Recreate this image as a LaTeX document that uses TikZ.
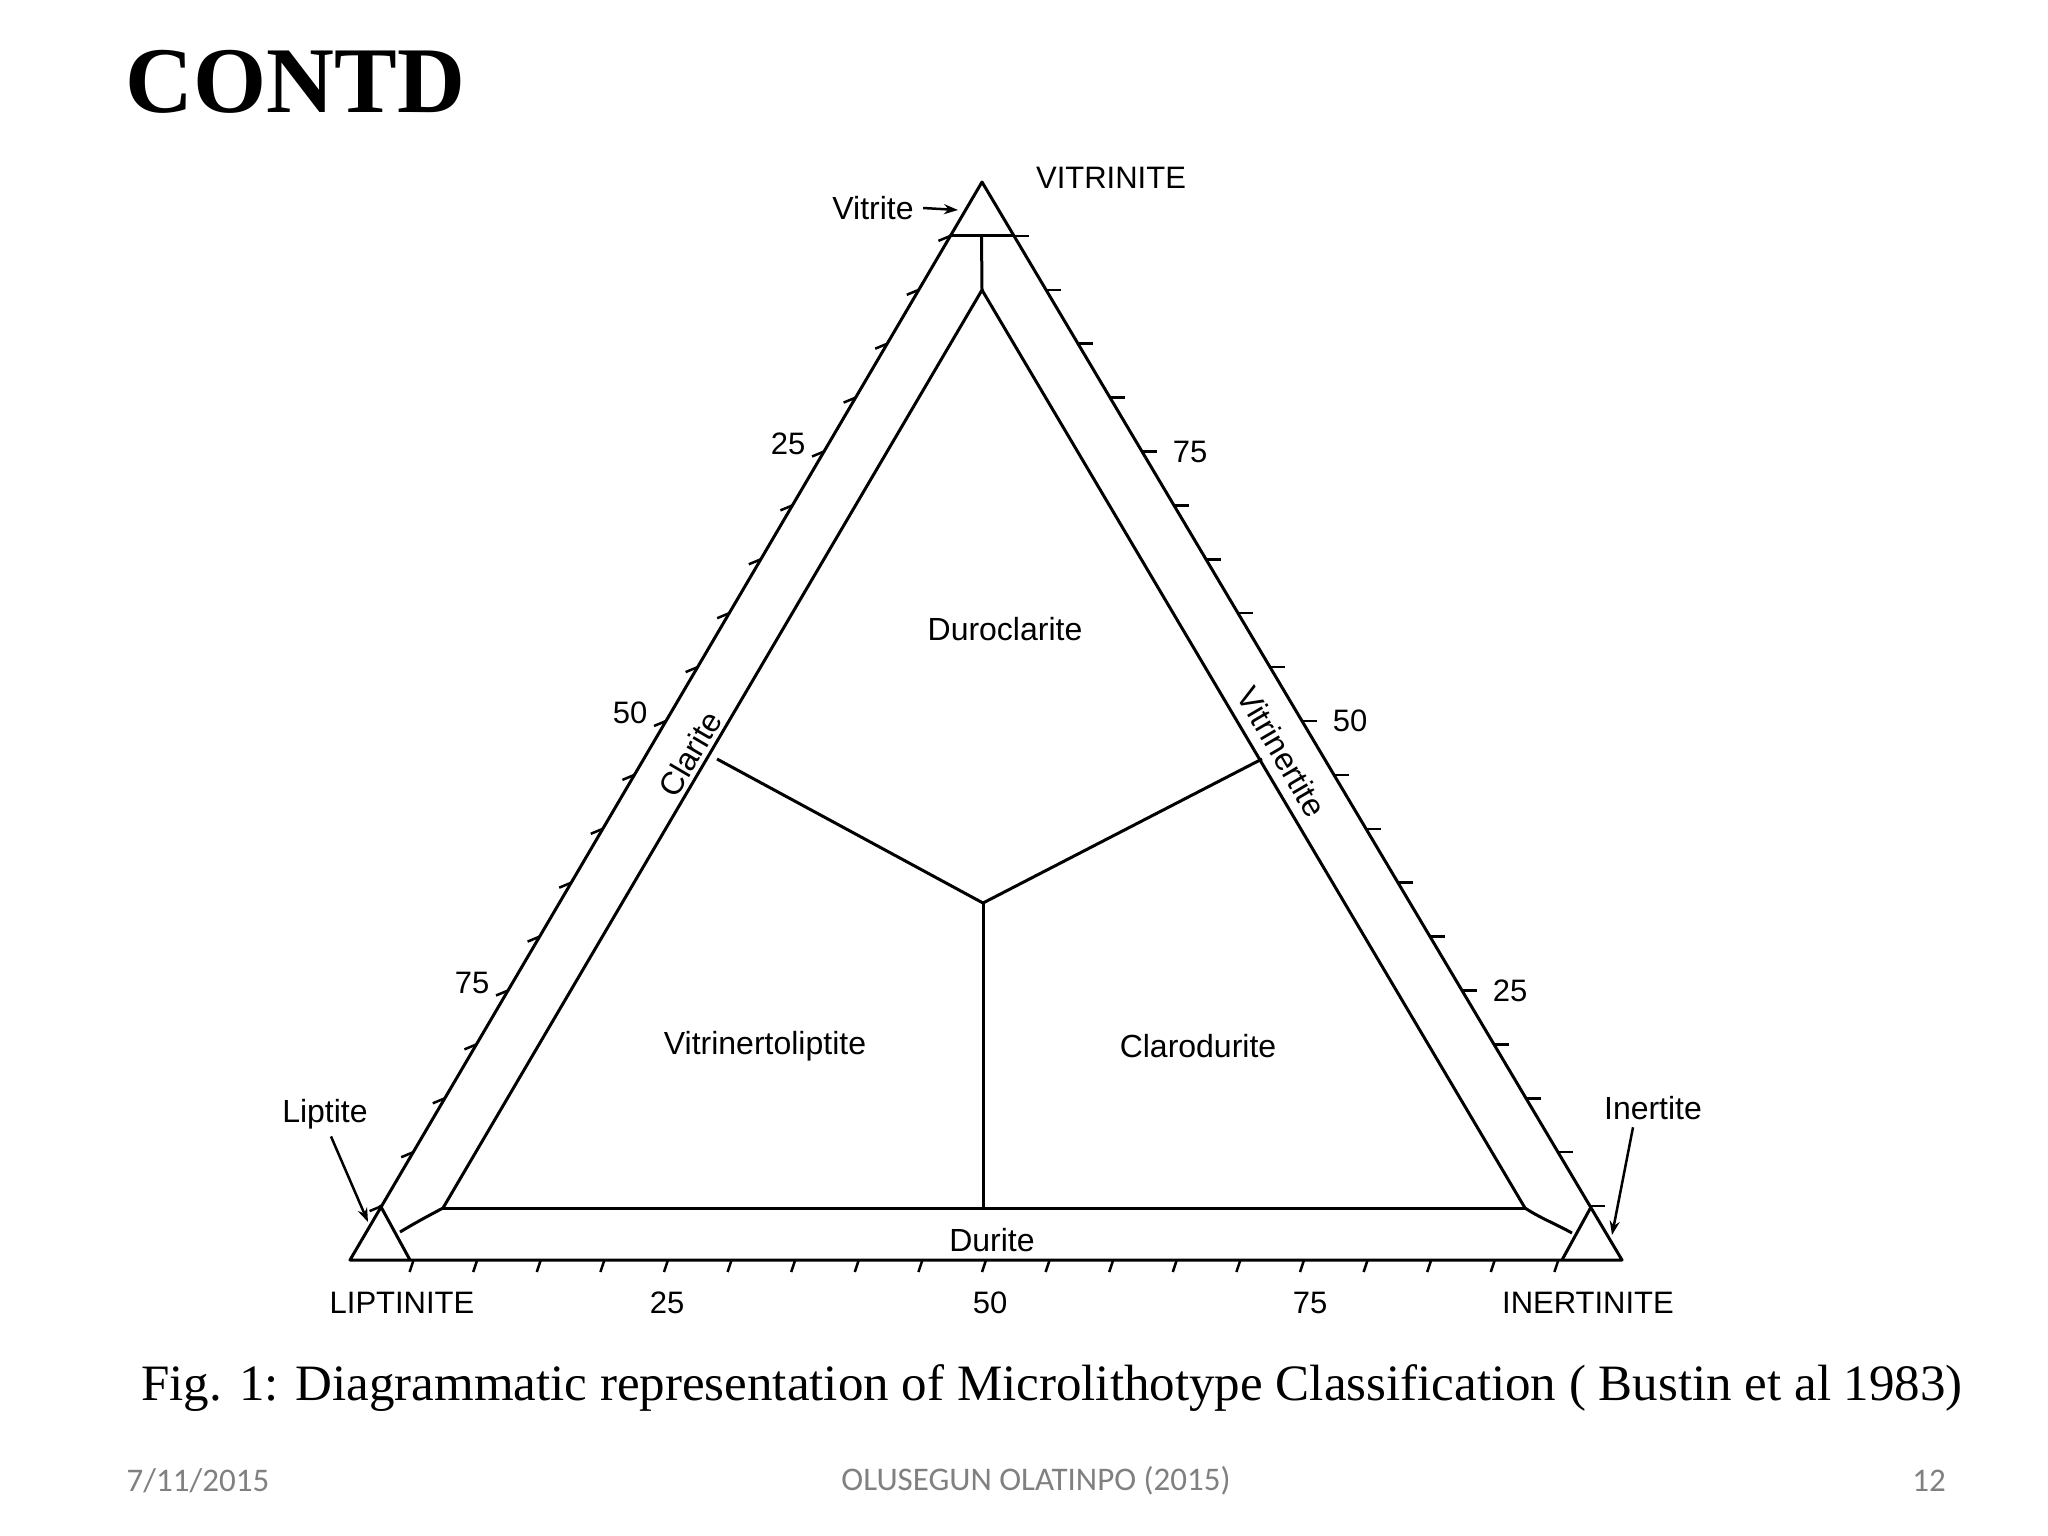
\documentclass[tikz,border=0pt]{standalone}
\usepackage{fontspec}
\setmainfont{Liberation Sans}
\newfontfamily\serifx{Liberation Serif}
\newfontfamily\calib{Carlito}
\usetikzlibrary{calc,arrows.meta}
\begin{document}
\begin{tikzpicture}[x=1pt,y=-1pt,
  ln/.style={line width=3pt,line join=round},
  lab/.style={font=\fontsize{31}{31}\selectfont},
  big/.style={font=\fontsize{32}{32}\selectfont},
  arr/.style={line width=2.5pt,-{Stealth[length=14pt,width=10pt]}}]
\useasboundingbox (0,0) rectangle (2048,1536);
% corners
\coordinate (A) at (982,182);
\coordinate (L) at (350,1260);
\coordinate (R) at (1622,1260);
\coordinate (At) at (950,235);
\coordinate (Atr) at (1013,235);
\coordinate (Lt) at (380,1205);
\coordinate (Lb) at (410,1260);
\coordinate (Rt) at (1591,1207);
\coordinate (Rb) at (1562,1260);
\coordinate (IA) at (982,290);
\coordinate (IL) at (443,1208);
\coordinate (IR) at (1525,1208);
\coordinate (J) at (983,903);
\coordinate (JL) at (717,759);
\coordinate (JR) at (1262,759);
\coordinate (JB) at (983,1208);
% outer triangle
\draw[ln] (A) -- (L) -- (R) -- cycle;
\draw[ln] (At) -- (Atr);
\draw[ln] (Lt) -- (Lb);
\draw[ln] (Rt) -- (Rb);
\draw[ln] ($(At)!0.5!(Atr)$) -- (IA);
\draw[ln] (400,1232) .. controls (420,1220) and (432,1214) .. (IL) -- (IA) -- (IR) .. controls (1540,1218) and (1556,1224) .. (1572,1233);
\draw[ln] (IL) -- (IR);
\draw[ln] (JL) -- (J) -- (JR);
\draw[ln] (J) -- (JB);
% ticks
\foreach \i in {1,...,19}{
  \draw[line width=2.5pt] ($(A)!\i/20!(L)$) -- ++(-12,5);
  \draw[line width=2.5pt] ($(A)!\i/20!(R)$) -- ++(15,0);
  \draw[line width=2.5pt] ($(L)!\i/20!(R)$) -- ++(-4,12);
}
% scale labels
\node[lab] (l25) at ($(A)!0.25!(L)+(-36,-8)$) {25};
\node[lab] (l50) at ($(A)!0.5!(L)+(-36,-8)$) {50};
\node[lab] (l75) at ($(A)!0.75!(L)+(-36,-8)$) {75};
\node[lab] (r75) at ($(A)!0.25!(R)+(48,0)$) {75};
\node[lab] (r50) at ($(A)!0.5!(R)+(48,0)$) {50};
\node[lab] (r25) at ($(A)!0.75!(R)+(48,0)$) {25};
\node[lab] (b25) at (667,1303) {25};
\node[lab] (b50) at (990,1303) {50};
\node[lab] (b75) at (1310,1303) {75};
\node[lab] (lip) at (402,1303) {LIPTINITE};
\node[lab] (ine) at (1588,1303) {INERTINITE};
\node[lab] (vit) at (1111,178) {VITRINITE};
% field names
\node[big] (duro) at (1005,629) {Duroclarite};
\node[big] (vtl) at (765,1046) {Vitrinertoliptite};
\node[big] (clar) at (1198,1046) {Clarodurite};
\node[big] (dur) at (992,1240) {Durite};
\node[big,rotate=59.6] (cla) at (690,754) {Clarite};
\node[big,rotate=-59.6] (vtn) at (1282,752) {Vitrinertite};
% end members
\node[big] (vitrite) at (873,208) {Vitrite};
\node[big] (liptite) at (325,1114) {Liptite};
\node[big] (inertite) at (1653,1108) {Inertite};
\coordinate (va) at (958,210);
\coordinate (la) at (368,1222);
\coordinate (ia) at (1612,1235);
\draw[arr] (vitrite.east) ++(6,0) -- (va);
\draw[arr] (liptite.south) ++(6,4) -- (la);
\draw[arr] (inertite.south) ++(-20,4) -- (ia);
% title, caption, footer
\node[font=\serifx\bfseries\fontsize{94}{94}\selectfont,anchor=west] (title) at (122,82) {CONTD};
\node[font=\serifx\fontsize{51}{51}\selectfont] (cap) at (1052,1388) {Fig. 1: Diagrammatic representation of Microlithotype Classification ( Bustin et al 1983)};
\node[font=\calib\fontsize{33}{33}\selectfont,text=gray] (d) at (198,1481) {7/11/2015};
\node[font=\calib\fontsize{33}{33}\selectfont,text=gray] (au) at (1036,1481) {OLUSEGUN OLATINPO (2015)};
\node[font=\calib\fontsize{33}{33}\selectfont,text=gray] (pg) at (1929,1481) {12};
\end{tikzpicture}
\end{document}
